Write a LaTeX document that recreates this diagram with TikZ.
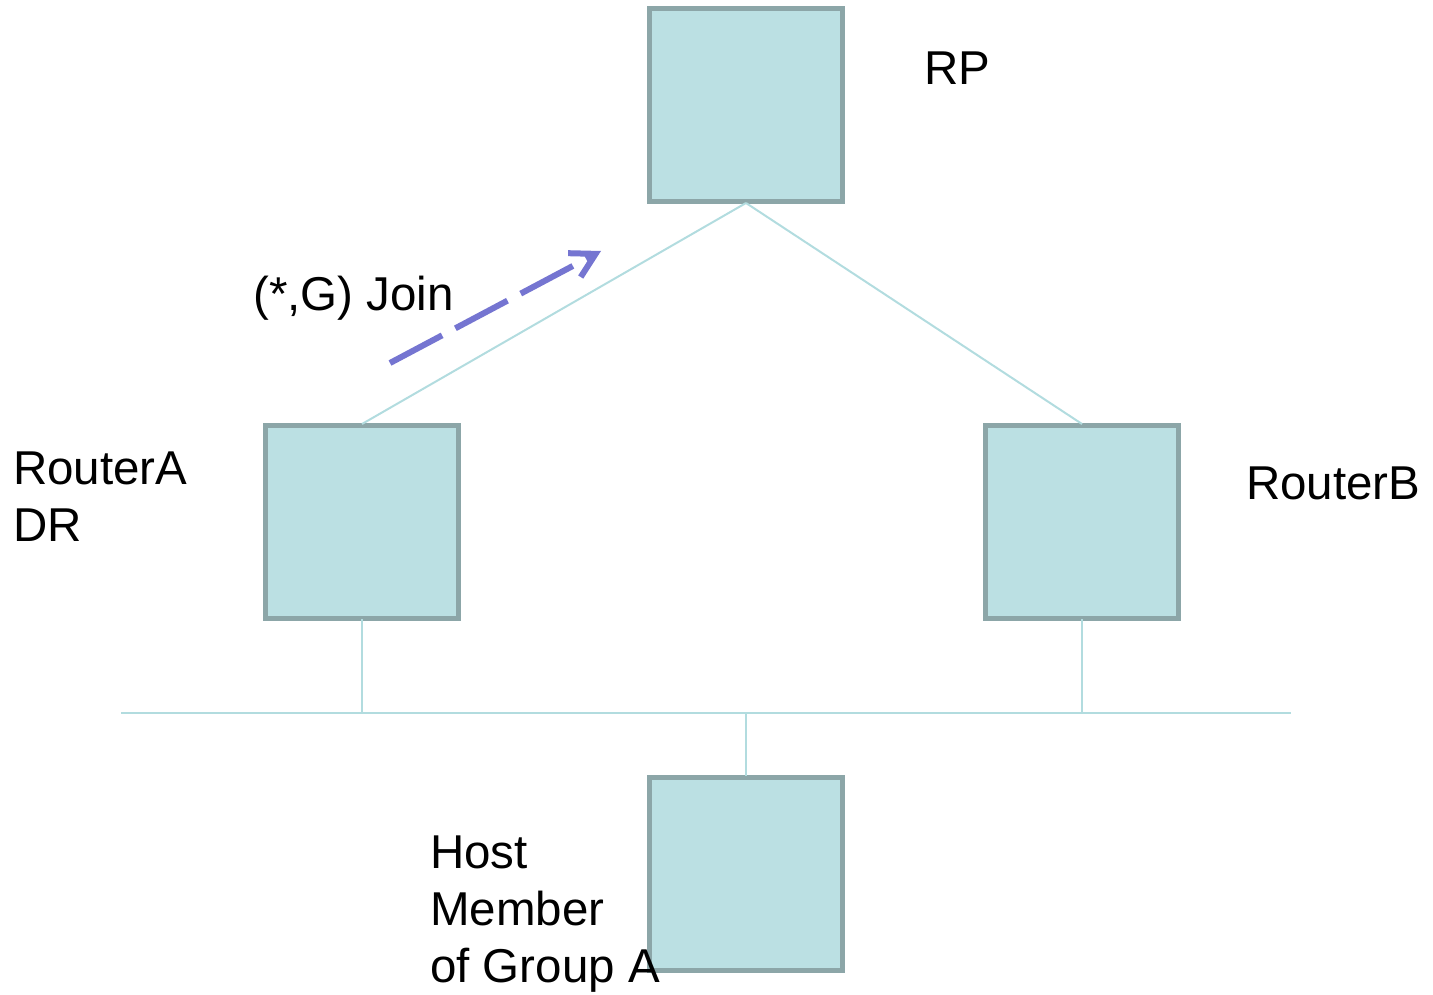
\documentclass[tikz,border=0pt]{standalone}
\usepackage{fontspec}
\setmainfont{Liberation Sans}
\usetikzlibrary{arrows.meta}
\definecolor{boxfill}{HTML}{BBE0E3}
\definecolor{boxline}{HTML}{8CA6A8}
\definecolor{wire}{HTML}{B2DCDF}
\definecolor{joincol}{HTML}{7575D1}
\begin{document}
\begin{tikzpicture}[x=1pt,y=-1pt,
  router/.style={draw=boxline, fill=boxfill, line width=5pt, minimum size=193pt, inner sep=0pt, outer sep=1pt, rectangle},
  wireline/.style={draw=wire, line width=2pt},
  lbl/.style={anchor=base west, inner sep=0pt, font=\fontsize{47.5}{57}\selectfont}]
\useasboundingbox (0,0) rectangle (1433,995);
% routers
\node[router] (rp) at (746,105.5) {};
\node[router] (ra) at (362,521.5) {};
\node[router] (rb) at (1082,521.5) {};
\node[router] (host) at (746,873.5) {};
% bus
\coordinate (busL) at (121,713);
\coordinate (busR) at (1291,713);
\draw[wireline] (busL) -- (busR);
\draw[wireline] (rp.south) -- (ra.north);
\draw[wireline] (rp.south) -- (rb.north);
\draw[wireline] (ra.south) -- (ra.south |- busL);
\draw[wireline] (rb.south) -- (rb.south |- busL);
\draw[wireline] (host.north) -- (host.north |- busL);
% labels
\node[lbl] (lrp) at (924,85) {RP};
\node[lbl] (lra1) at (13,484) {RouterA};
\node[lbl] (lra2) at (13,541) {DR};
\node[lbl] (lrb) at (1246,499) {RouterB};
\node[lbl] (lh1) at (430,868) {Host};
\node[lbl] (lh2) at (430,925) {Member};
\node[lbl] (lh3) at (430,982) {of Group A};
\node[lbl] (ljoin) at (253,310) {(*,G) Join};
% join arrow
\coordinate (j1) at (390,363);
\coordinate (j2) at (601,251);
\draw[draw=joincol, line width=6pt, dash pattern=on 59pt off 15pt,
  -{Straight Barb[length=24pt,width=27pt]}] (j1) -- (j2);
\end{tikzpicture}
\end{document}
